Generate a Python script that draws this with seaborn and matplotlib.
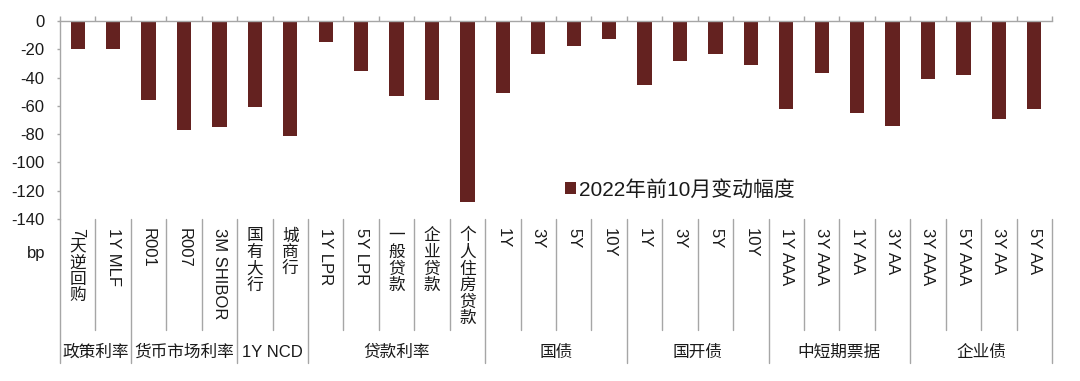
import re
import matplotlib
matplotlib.use("Agg")
import matplotlib.pyplot as plt
import matplotlib.transforms as mtransforms
import numpy as np
import pandas as pd
import seaborn as sns

# data (bp)
labels = ["7天逆回购", "1Y MLF", "R001", "R007", "3M SHIBOR", "国有大行", "城商行",
          "1Y LPR", "5Y LPR", "一般贷款", "企业贷款", "个人住房贷款",
          "1Y", "3Y", "5Y", "10Y",
          "1Y", "3Y", "5Y", "10Y",
          "1Y AAA", "3Y AAA", "1Y AA", "3Y AA",
          "3Y AAA", "5Y AAA", "3Y AA", "5Y AA"]
changes = [-20, -20, -56, -77, -75, -61, -81,
           -15, -35, -53, -56, -128,
           -51, -23, -18, -13,
           -45, -28, -23, -31,
           -62, -37, -65, -74,
           -41, -38, -69, -62]
groups = ["政策利率", "货币市场利率", "1Y NCD", "贷款利率", "国债", "国开债", "中短期票据", "企业债"]
group_sizes = [2, 3, 2, 5, 4, 4, 4, 4]
yticks = [0, -20, -40, -60, -80, -100, -120, -140]
series_name = "2022年前10月变动幅度"
unit = "bp"

bar_color = "#642220"
line_color = "#A6A6A6"
text_color = "#1A1A1A"
label_size = 12

cjk = re.compile(r"[\u4e00-\u9fff]")


def main():
    sns.set_style("white")
    plt.rcParams["font.family"] = ["Liberation Sans", "Noto Sans CJK SC"]
    plt.rcParams["axes.unicode_minus"] = False

    fig = plt.figure(figsize=(10.8, 3.81), dpi=100)
    ax = fig.add_axes([60 / 1080, 1 - 219 / 381, 992 / 1080, 198 / 381])

    df = pd.DataFrame({"pos": range(len(labels)), "change": changes, "series": series_name})
    sns.barplot(data=df, x="pos", y="change", hue="series", palette=[bar_color],
                width=0.4, saturation=1, linewidth=0, ax=ax)

    n = len(labels)
    ax.set_xlim(-0.5, n - 0.5)
    ax.set_ylim(min(yticks), 0)
    ax.set_yticks(yticks)
    ax.set_xlabel("")
    ax.set_ylabel("")

    # category axis sits on top, ticks on the category boundaries
    ax.xaxis.tick_top()
    ax.set_xticks(np.arange(-0.5, n, 1))
    ax.set_xticklabels([])
    ax.tick_params(axis="x", top=True, bottom=False, direction="out", length=3.6,
                   width=1, color=line_color, labeltop=False)
    ax.tick_params(axis="y", left=True, direction="out", length=2.2, width=1,
                   color=line_color, labelsize=12, pad=9, labelcolor=text_color)
    for side in ["bottom", "right"]:
        ax.spines[side].set_visible(False)
    for side in ["top", "left"]:
        ax.spines[side].set_color(line_color)
        ax.spines[side].set_linewidth(1)

    trans = mtransforms.blended_transform_factory(ax.transData, ax.transAxes)
    renderer = fig.canvas.get_renderer()

    # table-like labels underneath
    cat_bottom, grp_bottom = -0.561, -0.727
    edges = np.cumsum([0] + group_sizes) - 0.5
    for b in np.arange(-0.5, n, 1):
        bottom = grp_bottom if np.isclose(edges, b).any() else cat_bottom
        ax.plot([b, b], [0, bottom], transform=trans, color=line_color, lw=1, clip_on=False)

    top = -0.045
    for i, text in enumerate(labels):
        y_off = 0.0
        for run in re.findall(r"[\u4e00-\u9fff]|[^\u4e00-\u9fff]+", text):
            if cjk.match(run):
                ax.annotate(run, xy=(i, top), xycoords=trans, xytext=(0, -y_off),
                            textcoords="offset points", ha="center", va="top",
                            fontsize=label_size, color=text_color)
                y_off += label_size
            else:
                t = ax.annotate(run.strip(), xy=(i, top), xycoords=trans, xytext=(0, -y_off),
                                textcoords="offset points", ha="center", va="top",
                                rotation=-90, fontsize=label_size, color=text_color)
                y_off += t.get_window_extent(renderer).height * 72 / fig.dpi + 1

    for g, (a, b) in zip(groups, zip(edges[:-1], edges[1:])):
        ax.text((a + b) / 2, -0.674, g, transform=trans, ha="center", va="center",
                fontsize=label_size, color=text_color)

    ax.text(-0.024, -0.172, unit, transform=ax.transAxes, ha="center", va="center",
            fontsize=12, color=text_color)

    handles, names = ax.get_legend_handles_labels()
    ax.legend(handles, names, loc="center left", bbox_to_anchor=(0.509, 0.149),
              frameon=False, fontsize=15, handlelength=0.53, handleheight=0.53,
              handletextpad=0.15, borderpad=0, borderaxespad=0, labelcolor=text_color)

    fig.savefig("out.png", dpi=100)


if __name__ == "__main__":
    main()
